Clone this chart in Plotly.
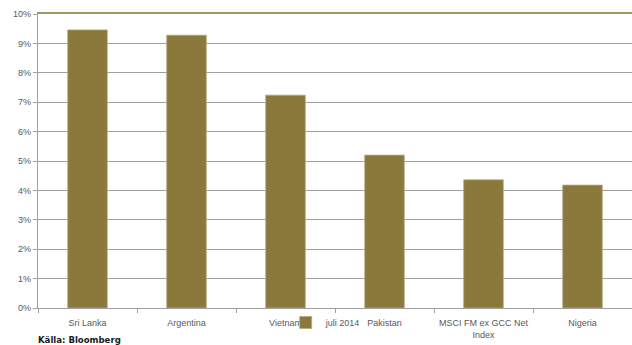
import plotly.graph_objects as go

categories = ["Sri Lanka", "Argentina", "Vietnam", "Pakistan", "MSCI FM ex GCC Net<br>Index", "Nigeria"]
values = [9.46, 9.28, 7.24, 5.20, 4.36, 4.18]
series_name = "juli 2014"
y_ticks = [0, 1, 2, 3, 4, 5, 6, 7, 8, 9, 10]
y_tick_labels = [f"{v}%" for v in y_ticks]

BAR = "#8b793c"
GRID = "#a0a0a0"
TXT = "#595959"
FONT = "Liberation Sans"

fig = go.Figure()
fig.add_trace(go.Bar(
    x=categories, y=values, name=series_name,
    marker=dict(color=BAR, line=dict(color="#b5a980", width=0.8)),
    showlegend=True,
))
# invisible trace to carry the top frame axis
fig.add_trace(go.Scatter(x=[None], y=[None], xaxis="x2", showlegend=False, hoverinfo="skip"))

fig.update_layout(
    width=632, height=345,
    margin=dict(l=38, r=0, t=14, b=37),
    paper_bgcolor="white", plot_bgcolor="white",
    font=dict(family=FONT, size=9, color=TXT),
    bargap=0.6,
    showlegend=True,
    legend=dict(orientation="h", x=0.417, xanchor="left", y=0.0, yanchor="top",
                font=dict(family=FONT, size=9, color=TXT), bgcolor="rgba(0,0,0,0)",
                itemwidth=30, tracegroupgap=0),
    xaxis=dict(type="category", showgrid=False, showline=True, linecolor=GRID, linewidth=1.2,
               ticks="outside", tickson="boundaries", ticklen=4, tickcolor=GRID,
               ticklabelstandoff=6,
               tickfont=dict(family=FONT, size=9, color=TXT), zeroline=False, fixedrange=True),
    xaxis2=dict(overlaying="x", side="top", showline=True, linecolor="#9c9a62", linewidth=2,
                showticklabels=False, ticks="", showgrid=False, zeroline=False,
                range=[0, 1]),
    yaxis=dict(range=[0, 10], tickvals=y_ticks, ticktext=y_tick_labels, showgrid=True,
               gridcolor=GRID, gridwidth=1.2, showline=True, linecolor=GRID, linewidth=1.2,
               ticks="outside", ticklen=4, tickcolor=GRID, zeroline=False,
               tickfont=dict(family=FONT, size=9, color=TXT), fixedrange=True),
    annotations=[dict(text="<b>Källa: Bloomberg</b>", xref="paper", yref="paper",
                      x=-0.003, y=-0.107, xanchor="left", yanchor="middle", showarrow=False,
                      font=dict(family="DejaVu Sans Condensed", size=9.5, color="#1a1a1a"))],
)

fig.write_html("out.html")
